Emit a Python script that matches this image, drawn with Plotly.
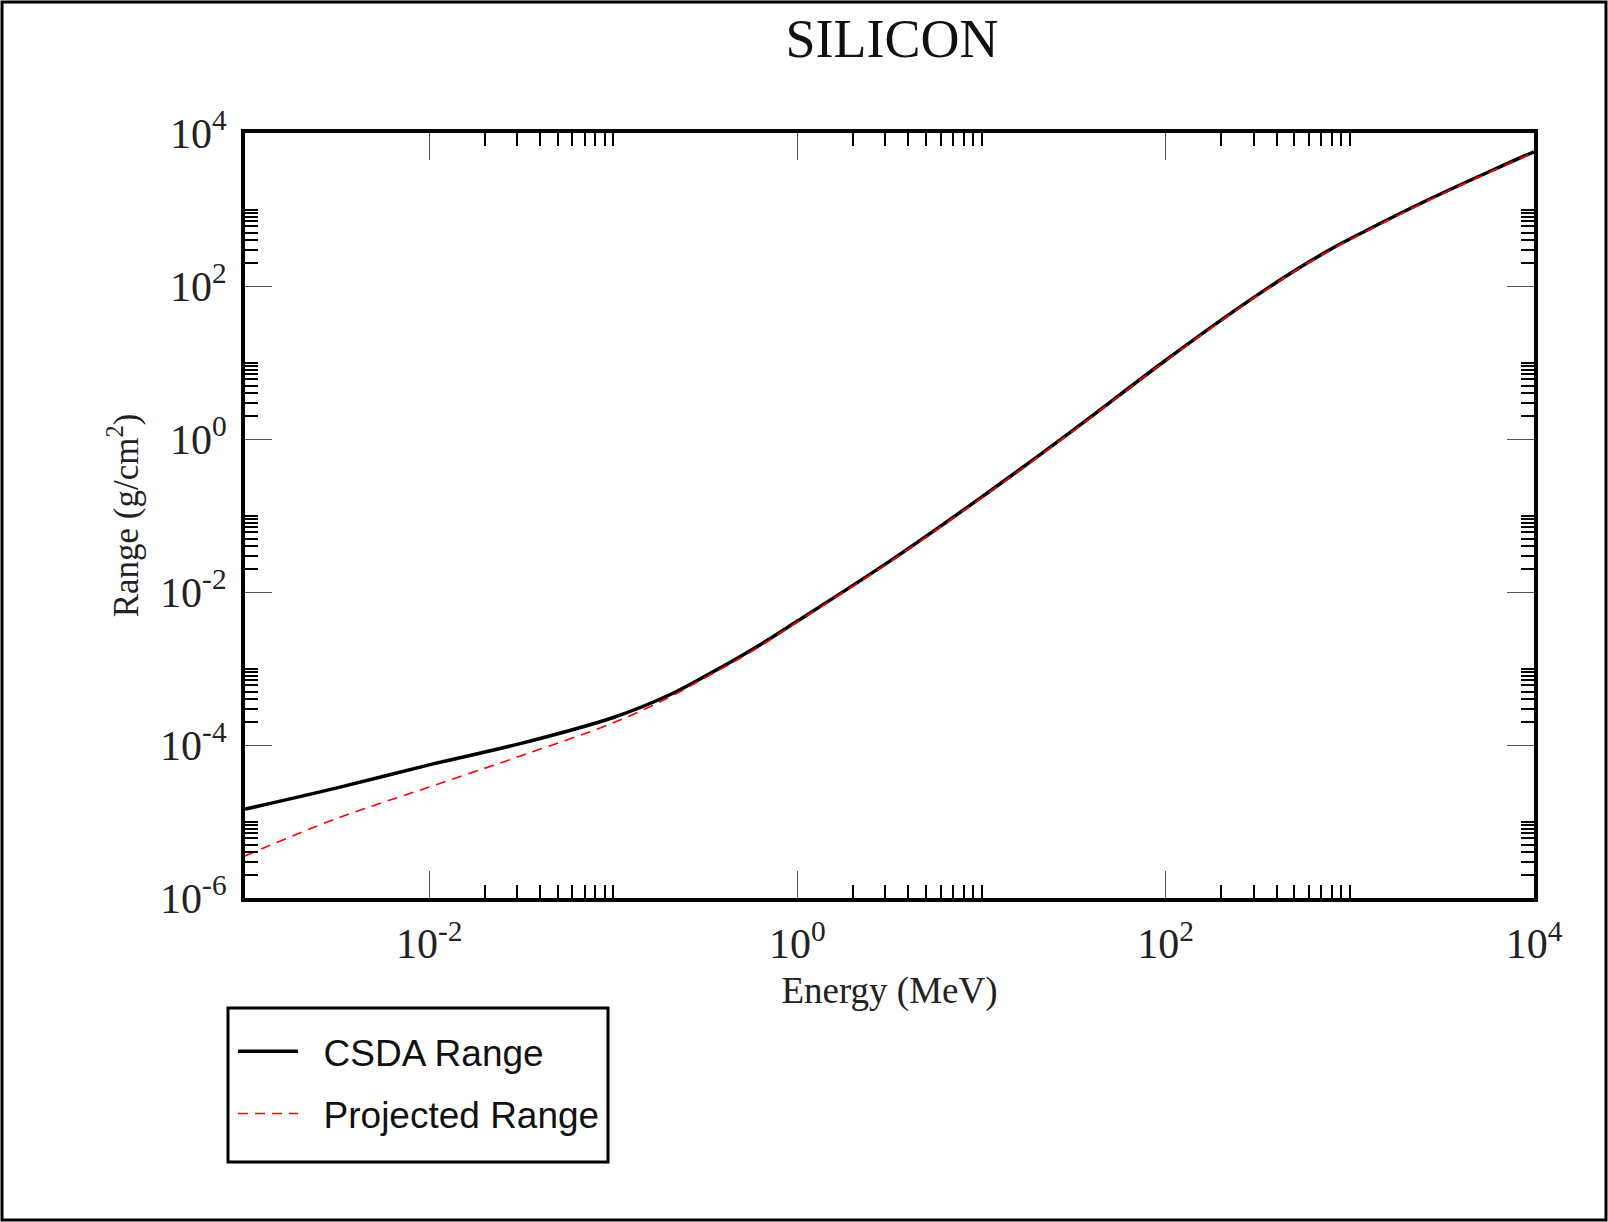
import plotly.graph_objects as go

# ---- data ----
energy_mev = [0.001, 0.00316, 0.01, 0.0316, 0.1, 0.2, 0.316, 0.562, 1.0, 3.16,
              10.0, 31.6, 100.0, 251.0, 479.0, 813.0, 1150.0, 2630.0, 6030.0, 10000.0]
csda_range = [1.45e-5, 2.75e-5, 5.5e-5, 1.05e-4, 2.29e-4, 4.47e-4, 7.94e-4, 1.74e-3, 4.17e-3, 0.0251,
              0.174, 1.32, 10.7, 52.5, 148.0, 316.0, 490.0, 1320.0, 3310.0, 5690.0]
projected_range = [3.55e-6, 1.1e-5, 2.82e-5, 7.24e-5, 1.95e-4, 4.17e-4, 7.6e-4, 1.66e-3, 4.07e-3, 0.0245,
                   0.170, 1.29, 10.5, 51.3, 145.0, 309.0, 479.0, 1290.0, 3240.0, 5560.0]

x_major_vals = [1e-2, 1e0, 1e2, 1e4]
x_major_text = ["10<sup>-2</sup>", "10<sup>0</sup>", "10<sup>2</sup>", "10<sup>4</sup>"]
y_major_vals = [1e-6, 1e-4, 1e-2, 1e0, 1e2, 1e4]
y_major_text = ["10<sup>-6</sup>", "10<sup>-4</sup>", "10<sup>-2</sup>", "10<sup>0</sup>",
                "10<sup>2</sup>", "10<sup>4</sup>"]
x_minor_decades = [-2, 0, 2]
y_minor_decades = [-6, -4, -2, 0, 2]

x_minor_vals = [n * 10.0 ** k for k in x_minor_decades for n in range(2, 11)]
y_minor_vals = [n * 10.0 ** k for k in y_minor_decades for n in range(2, 11)]

W, H = 1608, 1222
ML, MR, MT, MB = 245, 74, 133, 324
PW, PH = W - ML - MR, H - MT - MB


def px_x(p):
    return (p - ML) / PW


def px_y(p):
    return (MT + PH - p) / PH


serif = "Liberation Serif, Times New Roman, serif"
sans = "Liberation Sans, Arial, Helvetica, sans-serif"
NB = "\u00a0"

fig = go.Figure()
fig.add_trace(go.Scatter(x=energy_mev, y=csda_range, mode="lines", name=NB * 2 + "CSDA Range",
                         legendgroup="a",
                         line=dict(color="black", width=3.5, shape="spline", smoothing=1.0)))
fig.add_trace(go.Scatter(x=energy_mev, y=projected_range, mode="lines",
                         name=NB * 2 + "Projected Range", legendgroup="b",
                         line=dict(color="#ff0000", width=1.6, dash="10px,7px",
                                   shape="spline", smoothing=1.0)))

axis_common = dict(type="log", showgrid=False, zeroline=False, showline=True,
                   linecolor="black", linewidth=4, mirror="allticks",
                   ticks="inside", ticklen=27, tickwidth=1, tickcolor="#555",
                   tickmode="array",
                   tickfont=dict(family=serif, size=42, color="#222"))

fig.update_xaxes(**axis_common, range=[-3, 4], tickvals=x_major_vals, ticktext=x_major_text,
                 ticklabelstandoff=6,
                 minor=dict(tickmode="array", tickvals=x_minor_vals, ticks="inside",
                            ticklen=13, tickwidth=2, tickcolor="black", showgrid=False),
                 title=dict(text="Energy (MeV)", font=dict(family=serif, size=37, color="#222"),
                            standoff=12))
fig.update_yaxes(**axis_common, range=[-6, 4], tickvals=y_major_vals, ticktext=y_major_text,
                 ticklabelstandoff=6,
                 minor=dict(tickmode="array", tickvals=y_minor_vals, ticks="inside",
                            ticklen=13, tickwidth=2, tickcolor="black", showgrid=False),
                 title=dict(text="Range (g/cm<sup>2</sup>)",
                            font=dict(family=serif, size=35, color="#222"), standoff=12))

# outer frame around the whole picture
fig.add_shape(type="rect", xref="paper", yref="paper",
              x0=px_x(2), x1=px_x(W - 2), y0=px_y(H - 2), y1=px_y(2),
              line=dict(color="black", width=3), fillcolor="rgba(0,0,0,0)", layer="above")
# legend frame
fig.add_shape(type="rect", xref="paper", yref="paper",
              x0=px_x(228), x1=px_x(608), y0=px_y(1162), y1=px_y(1008),
              line=dict(color="black", width=3), fillcolor="white", layer="below")

fig.update_layout(
    width=W, height=H,
    margin=dict(l=ML, r=MR, t=MT, b=MB, pad=0),
    paper_bgcolor="white", plot_bgcolor="white",
    title=dict(text="SILICON", font=dict(family=serif, size=54, color="#111"),
               x=892 / W, xanchor="center", xref="container",
               y=1 - 38 / H, yref="container", yanchor="middle"),
    showlegend=True,
    legend=dict(x=px_x(233), y=px_y(1013), xanchor="left", yanchor="top",
                bgcolor="rgba(0,0,0,0)", borderwidth=0,
                font=dict(family=sans, size=37, color="#111"),
                title=dict(text=NB, font=dict(size=6)),
                itemwidth=60, tracegroupgap=11, traceorder="grouped"),
)

fig.write_html("out.html", config={"displayModeBar": False},
               post_script="document.body.style.margin='0';document.body.style.overflow='hidden';")
